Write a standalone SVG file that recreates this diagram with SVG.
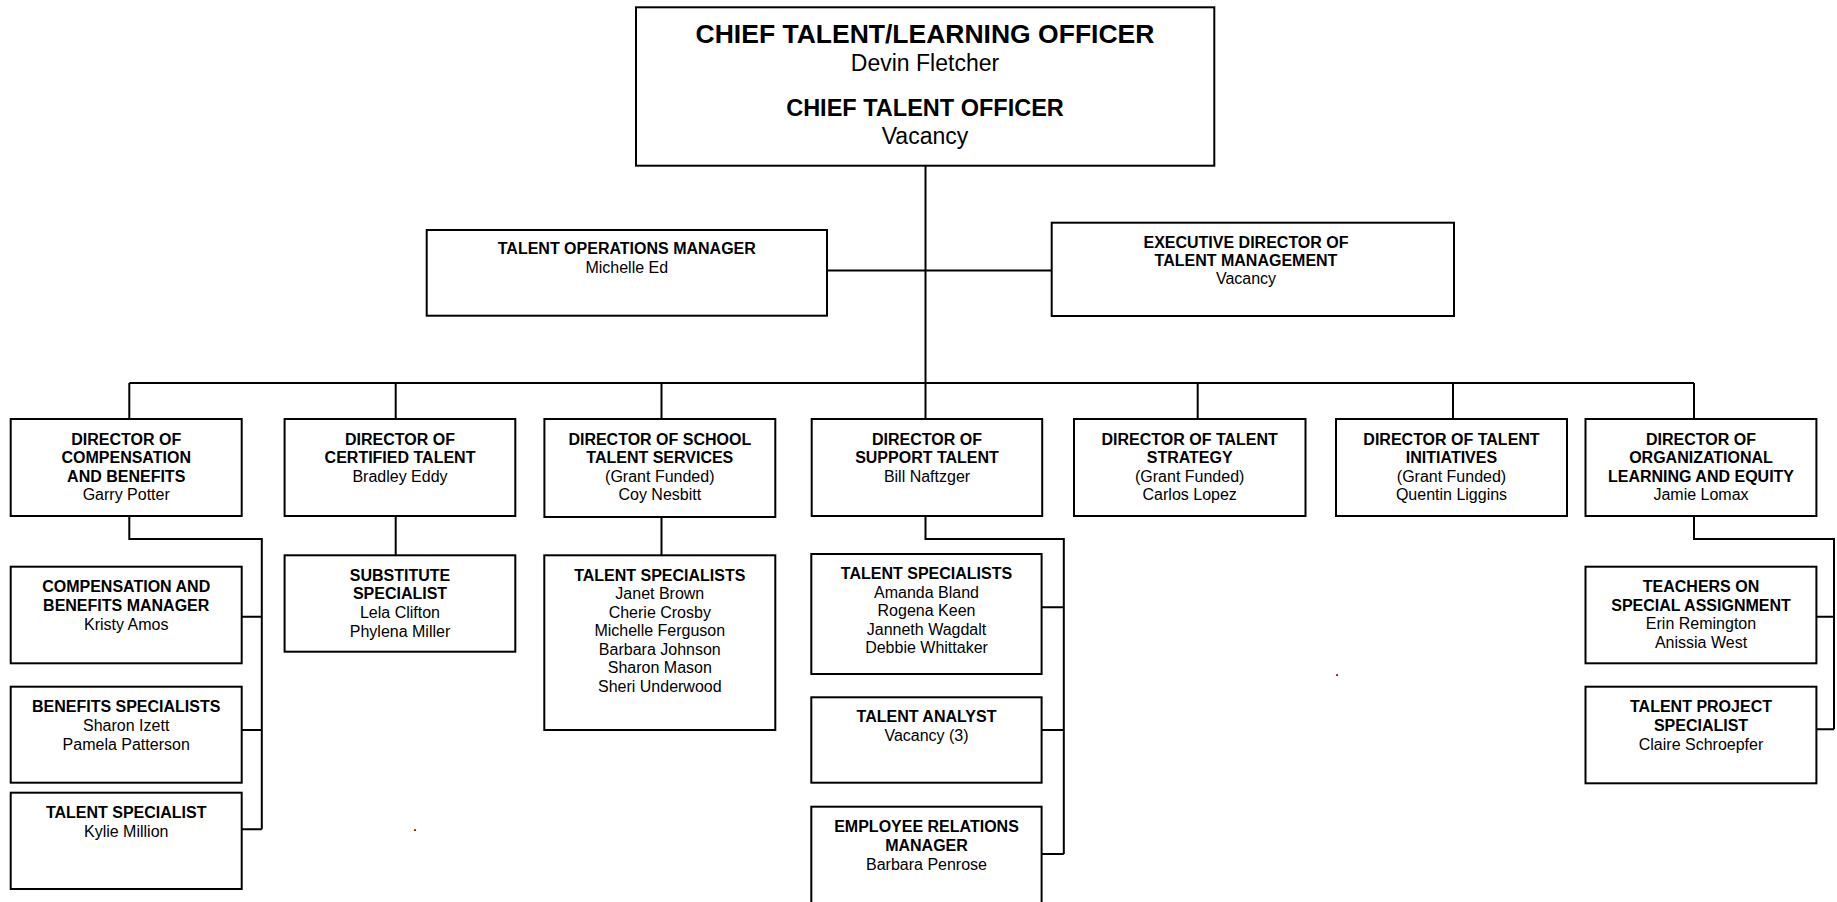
<svg xmlns="http://www.w3.org/2000/svg" width="1837" height="902" viewBox="0 0 1837 902">
<style>
.box{fill:#fff;stroke:#000;stroke-width:2}
.ln{fill:none;stroke:#000;stroke-width:2}
text{font-family:"Liberation Sans",Arial,sans-serif;text-anchor:middle;fill:#000}
.b{font-weight:bold;font-size:16px}
.r{font-size:16px}
.eb{font-weight:bold;font-size:16px}
.er{font-size:16px}
.tb{font-weight:bold;font-size:26.5px}
.tb2{font-weight:bold;font-size:23.5px}
.tr{font-size:23px}
</style>
<rect width="1837" height="902" fill="#fff"/>
<g id="connectors">
<path class="ln" d="M925.5 166V383"/>
<path class="ln" d="M827 270.5H1052"/>
<path class="ln" d="M129.3 383H1694"/>
<path class="ln" d="M129.3 383V419M395.7 383V419M661.5 383V419M925.5 383V419M1197.7 383V419M1453 383V419M1694 383V419"/>
<path class="ln" d="M129.3 516V539H261.8V829.3M241.7 616.7H261.8M241.7 730H261.8M241.7 829.3H261.8"/>
<path class="ln" d="M395.7 516V555.3"/>
<path class="ln" d="M661.5 517V555.3"/>
<path class="ln" d="M925.5 516V539H1063.8V854M1041.6 607.3H1063.8M1041.6 730H1063.8M1041.6 854H1063.8"/>
<path class="ln" d="M1694 516V539H1834V729.3M1816.4 616.7H1834M1816.4 729.3H1834"/>
</g>
<g id="cto">
<rect class="box" x="636" y="7.3" width="578.3" height="158.4"/>
<text class="tb" x="925" y="43">CHIEF TALENT/LEARNING OFFICER</text>
<text class="tr" x="925" y="71">Devin Fletcher</text>
<text class="tb2" x="925" y="116">CHIEF TALENT OFFICER</text>
<text class="tr" x="925" y="144">Vacancy</text>
</g>
<g id="ops">
<rect class="box" x="426.7" y="230" width="400.3" height="85.7"/>
<text class="b" x="626.8" y="254.3">TALENT OPERATIONS MANAGER</text>
<text class="r" x="626.8" y="272.7">Michelle Ed</text>
</g>
<g id="exec">
<rect class="box" x="1051.7" y="222.7" width="402.3" height="93.3"/>
<text class="eb" x="1246" y="247.5">EXECUTIVE DIRECTOR OF</text>
<text class="eb" x="1246" y="265.5">TALENT MANAGEMENT</text>
<text class="er" x="1246" y="283.5">Vacancy</text>
</g>
<g id="dir-comp">
<rect class="box" x="10.7" y="419" width="231" height="97"/>
<text class="b" x="126.2" y="444.5">DIRECTOR OF</text>
<text class="b" x="126.2" y="463">COMPENSATION</text>
<text class="b" x="126.2" y="481.5">AND BENEFITS</text>
<text class="r" x="126.2" y="500">Garry Potter</text>
</g>
<g id="dir-cert">
<rect class="box" x="284.6" y="419" width="230.7" height="97"/>
<text class="b" x="400" y="444.5">DIRECTOR OF</text>
<text class="b" x="400" y="463">CERTIFIED TALENT</text>
<text class="r" x="400" y="481.5">Bradley Eddy</text>
</g>
<g id="dir-school">
<rect class="box" x="544.4" y="419" width="230.9" height="98"/>
<text class="b" x="659.8" y="444.5">DIRECTOR OF SCHOOL</text>
<text class="b" x="659.8" y="463">TALENT SERVICES</text>
<text class="r" x="659.8" y="481.5">(Grant Funded)</text>
<text class="r" x="659.8" y="500">Coy Nesbitt</text>
</g>
<g id="dir-support">
<rect class="box" x="811.7" y="419" width="230.5" height="97"/>
<text class="b" x="927" y="444.5">DIRECTOR OF</text>
<text class="b" x="927" y="463">SUPPORT TALENT</text>
<text class="r" x="927" y="481.5">Bill Naftzger</text>
</g>
<g id="dir-strategy">
<rect class="box" x="1074" y="419" width="231.5" height="97"/>
<text class="b" x="1189.7" y="444.5">DIRECTOR OF TALENT</text>
<text class="b" x="1189.7" y="463">STRATEGY</text>
<text class="r" x="1189.7" y="481.5">(Grant Funded)</text>
<text class="r" x="1189.7" y="500">Carlos Lopez</text>
</g>
<g id="dir-initiatives">
<rect class="box" x="1336" y="419" width="231" height="97"/>
<text class="b" x="1451.5" y="444.5">DIRECTOR OF TALENT</text>
<text class="b" x="1451.5" y="463">INITIATIVES</text>
<text class="r" x="1451.5" y="481.5">(Grant Funded)</text>
<text class="r" x="1451.5" y="500">Quentin Liggins</text>
</g>
<g id="dir-org">
<rect class="box" x="1585.5" y="419" width="230.9" height="97"/>
<text class="b" x="1701" y="444.5">DIRECTOR OF</text>
<text class="b" x="1701" y="463">ORGANIZATIONAL</text>
<text class="b" x="1701" y="481.5">LEARNING AND EQUITY</text>
<text class="r" x="1701" y="500">Jamie Lomax</text>
</g>
<g id="comp-manager">
<rect class="box" x="10.7" y="566.7" width="231" height="96.6"/>
<text class="b" x="126.2" y="591.7">COMPENSATION AND</text>
<text class="b" x="126.2" y="610.7">BENEFITS MANAGER</text>
<text class="r" x="126.2" y="629.5">Kristy Amos</text>
</g>
<g id="benefits-spec">
<rect class="box" x="10.7" y="686.7" width="231" height="96"/>
<text class="b" x="126.2" y="711.7">BENEFITS SPECIALISTS</text>
<text class="r" x="126.2" y="730.5">Sharon Izett</text>
<text class="r" x="126.2" y="749.5">Pamela Patterson</text>
</g>
<g id="talent-spec-1">
<rect class="box" x="10.7" y="792.7" width="231" height="96.3"/>
<text class="b" x="126.2" y="817.7">TALENT SPECIALIST</text>
<text class="r" x="126.2" y="836.5">Kylie Million</text>
</g>
<g id="substitute">
<rect class="box" x="284.6" y="555.3" width="230.7" height="96.4"/>
<text class="b" x="400" y="580.7">SUBSTITUTE</text>
<text class="b" x="400" y="599.3">SPECIALIST</text>
<text class="r" x="400" y="618.2">Lela Clifton</text>
<text class="r" x="400" y="636.8">Phylena Miller</text>
</g>
<text class="r" x="415" y="831">.</text>
<g id="school-spec">
<rect class="box" x="544.3" y="555.3" width="231" height="174.7"/>
<text class="b" x="659.8" y="580.7">TALENT SPECIALISTS</text>
<text class="r" x="659.8" y="599.2">Janet Brown</text>
<text class="r" x="659.8" y="617.7">Cherie Crosby</text>
<text class="r" x="659.8" y="636.2">Michelle Ferguson</text>
<text class="r" x="659.8" y="654.7">Barbara Johnson</text>
<text class="r" x="659.8" y="673.2">Sharon Mason</text>
<text class="r" x="659.8" y="691.7">Sheri Underwood</text>
</g>
<g id="support-spec">
<rect class="box" x="811.3" y="554" width="230.3" height="120"/>
<text class="b" x="926.5" y="579">TALENT SPECIALISTS</text>
<text class="r" x="926.5" y="597.6">Amanda Bland</text>
<text class="r" x="926.5" y="616.2">Rogena Keen</text>
<text class="r" x="926.5" y="634.8">Janneth Wagdalt</text>
<text class="r" x="926.5" y="653.4">Debbie Whittaker</text>
</g>
<g id="talent-analyst">
<rect class="box" x="811.3" y="697.3" width="230.3" height="85.4"/>
<text class="b" x="926.5" y="721.7">TALENT ANALYST</text>
<text class="r" x="926.5" y="740.5">Vacancy (3)</text>
</g>
<g id="er-manager">
<rect class="box" x="811.3" y="806.7" width="230.3" height="110"/>
<text class="b" x="926.5" y="831.7">EMPLOYEE RELATIONS</text>
<text class="b" x="926.5" y="850.7">MANAGER</text>
<text class="r" x="926.5" y="869.5">Barbara Penrose</text>
</g>
<text class="r" x="1337" y="676">.</text>
<g id="tosa">
<rect class="box" x="1585.5" y="566.7" width="230.9" height="96.6"/>
<text class="b" x="1701" y="591.7">TEACHERS ON</text>
<text class="b" x="1701" y="610.7">SPECIAL ASSIGNMENT</text>
<text class="r" x="1701" y="629.2">Erin Remington</text>
<text class="r" x="1701" y="647.8">Anissia West</text>
</g>
<g id="project-spec">
<rect class="box" x="1585.5" y="686.7" width="230.9" height="96.6"/>
<text class="b" x="1701" y="711.7">TALENT PROJECT</text>
<text class="b" x="1701" y="730.7">SPECIALIST</text>
<text class="r" x="1701" y="749.7">Claire Schroepfer</text>
</g>
</svg>
